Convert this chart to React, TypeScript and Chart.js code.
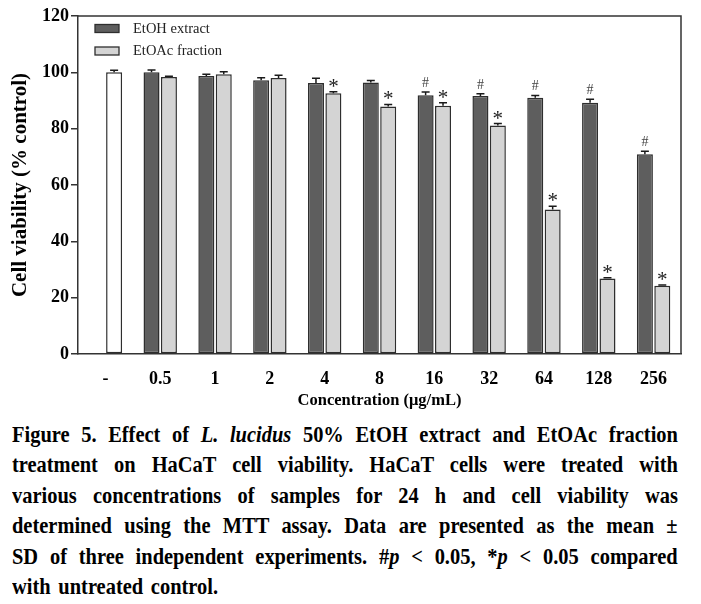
import React, { useEffect, useLayoutEffect, useRef } from "react";
import { Chart, registerables } from "chart.js";

Chart.register(...registerables);

// ---------- data ----------
const categories = ["-", "0.5", "1", "2", "4", "8", "16", "32", "64", "128", "256"];
const controlValues = [100.0, null, null, null, null, null, null, null, null, null, null];
const controlErr = [0.7, null, null, null, null, null, null, null, null, null, null];
const etohValues = [null, 100.0, 98.7, 97.2, 96.2, 96.4, 91.9, 91.6, 91.0, 89.2, 70.9];
const etohErr = [null, 0.8, 0.6, 0.9, 1.7, 0.7, 1.1, 0.8, 0.8, 1.2, 1.1];
const etoacValues = [null, 98.3, 99.3, 98.0, 92.6, 87.9, 88.1, 81.1, 51.3, 26.8, 24.2];
const etoacErr = [null, 0.3, 0.9, 1.0, 0.5, 0.7, 1.1, 0.7, 1.2, 0.3, 0.3];
const etohMarks = ["", "", "", "", "", "", "#", "#", "#", "#", "#"];
const etoacMarks = ["", "", "", "", "*", "*", "*", "*", "*", "*", "*"];
const controlMarks = ["", "", "", "", "", "", "", "", "", "", ""];
const yMin = 0;
const yMax = 120;
const yStep = 20;
const seriesLabels = ["EtOH extract", "EtOAc fraction", "Control"];

const FONT = '"Liberation Serif", "Times New Roman", Times, serif';
const DARK = "#5e5e5e";
const LIGHT = "#d4d4d4";
const EDGE = "#2e2e2e";
const AXIS = "#333333";

const framePlugin = {
  id: "frame",
  afterDraw(chart: any) {
    const { ctx, chartArea } = chart;
    ctx.save();
    ctx.strokeStyle = AXIS;
    ctx.lineWidth = 1.5;
    ctx.beginPath();
    ctx.moveTo(chartArea.left, chartArea.top);
    ctx.lineTo(chartArea.right, chartArea.top);
    ctx.lineTo(chartArea.right, chartArea.bottom);
    ctx.stroke();
    ctx.restore();
  },
};

const errorPlugin = {
  id: "errbars",
  afterDatasetsDraw(chart: any) {
    const ctx = chart.ctx;
    const ys = chart.scales.y;
    chart.data.datasets.forEach((ds: any, di: number) => {
      const meta = chart.getDatasetMeta(di);
      meta.data.forEach((el: any, i: number) => {
        const v = ds.data[i];
        if (v === null || v === undefined) return;
        const e = (ds.errors && ds.errors[i]) || 0;
        const x = el.x;
        const yTop = ys.getPixelForValue(v);
        const yCap = ys.getPixelForValue(v + e);
        ctx.save();
        ctx.strokeStyle = "#1a1a1a";
        ctx.lineWidth = 1.5;
        ctx.beginPath();
        ctx.moveTo(x, yTop);
        ctx.lineTo(x, yCap);
        ctx.moveTo(x - 4, yCap);
        ctx.lineTo(x + 4, yCap);
        ctx.stroke();
        const m = ds.marks && ds.marks[i];
        if (m) {
          if (m === "#") {
            ctx.font = `14px ${FONT}`;
            ctx.fillStyle = "#444444";
          } else {
            ctx.font = `21px ${FONT}`;
            ctx.fillStyle = "#222222";
          }
          ctx.textAlign = "center";
          ctx.textBaseline = "alphabetic";
          const mt = ctx.measureText(m);
          const desc = mt.actualBoundingBoxDescent || 0;
          ctx.fillText(m, x, yCap - 5 - desc);
        }
        ctx.restore();
      });
    });
  },
};

const legendPlugin = {
  id: "customLegend",
  afterDraw(chart: any) {
    const ctx = chart.ctx;
    const left = chart.chartArea.left;
    const top = chart.chartArea.top;
    ctx.save();
    [0, 1].forEach((di, row) => {
      const ds = chart.data.datasets[di];
      const y = top + 8.5 + row * 22.5;
      ctx.fillStyle = ds.backgroundColor;
      ctx.fillRect(left + 17, y, 24, 8);
      ctx.strokeStyle = ds.borderColor;
      ctx.lineWidth = 1.3;
      ctx.strokeRect(left + 17, y, 24, 8);
      ctx.font = `14.5px ${FONT}`;
      ctx.fillStyle = "#222222";
      ctx.textAlign = "left";
      ctx.textBaseline = "middle";
      ctx.fillText(ds.label, left + 55, y + 4.5);
    });
    ctx.restore();
  },
};

function ChartView() {
  const ref = useRef<HTMLCanvasElement>(null);
  useEffect(() => {
    if (!ref.current) return;
    const barCommon = {
      borderWidth: 1.5,
      borderColor: EDGE,
      borderSkipped: false,
      categoryPercentage: 0.635,
      barPercentage: 0.92,
    };
    const chart = new Chart(ref.current, {
      type: "bar",
      data: {
        labels: categories,
        datasets: [
          { ...barCommon, label: seriesLabels[0], data: etohValues, errors: etohErr, marks: etohMarks, stack: "a", backgroundColor: DARK } as any,
          { ...barCommon, label: seriesLabels[1], data: etoacValues, errors: etoacErr, marks: etoacMarks, stack: "b", backgroundColor: LIGHT } as any,
          { ...barCommon, label: seriesLabels[2], data: controlValues, errors: controlErr, marks: controlMarks, stack: "b", backgroundColor: "#ffffff" } as any,
        ],
      },
      options: {
        responsive: false,
        animation: false,
        devicePixelRatio: 1,
        layout: { padding: { top: 16, right: 20, left: 0, bottom: 0 } },
        plugins: { legend: { display: false }, tooltip: { enabled: false } },
        scales: {
          x: {
            grid: { display: false },
            border: { display: true, color: AXIS, width: 1.5 },
            ticks: { color: "#000", padding: 7, font: { family: FONT, size: 18, weight: "bold" } },
            title: {
              display: true,
              text: "Concentration (\u03bcg/mL)",
              color: "#000",
              font: { family: FONT, size: 16.5, weight: "bold" },
              padding: { top: 0, bottom: 4.4 },
            },
            afterFit: (s: any) => {
              s.height = 61;
            },
          },
          y: {
            min: yMin,
            max: yMax,
            stacked: false,
            ticks: { stepSize: yStep, color: "#000", padding: 2, font: { family: FONT, size: 18, weight: "bold" } },
            grid: { display: true, drawOnChartArea: false, drawTicks: true, tickLength: 7, color: AXIS, lineWidth: 1.5 },
            border: { display: true, color: AXIS, width: 1.5 },
            title: {
              display: true,
              text: "Cell viability (% control)",
              color: "#000",
              font: { family: FONT, size: 21, weight: "bold" },
              padding: { top: 7.5, bottom: 0 },
            },
            afterFit: (s: any) => {
              s.width = 78;
            },
          },
        },
      } as any,
      plugins: [framePlugin, errorPlugin, legendPlugin],
    });
    return () => chart.destroy();
  }, []);
  return (
    <canvas
      ref={ref}
      width={701}
      height={415}
      style={{ position: "absolute", left: 0, top: 0, width: 701, height: 415, display: "block" }}
    />
  );
}

const CAP_W = 666;
const CAP_SCALE = 0.87;

function CaptionLine({ children, justify }: { children: React.ReactNode; justify: boolean }) {
  const inner = useRef<HTMLSpanElement>(null);
  useLayoutEffect(() => {
    const s = inner.current;
    if (!s) return;
    s.style.wordSpacing = "0px";
    s.style.transform = "none";
    const w = s.offsetWidth;
    const spaces = (s.textContent || "").split(" ").length - 1;
    let scale = CAP_SCALE;
    if (w * scale > CAP_W) scale = CAP_W / w;
    s.style.transform = `scaleX(${scale})`;
    if (justify && spaces > 0) {
      const extra = (CAP_W / scale - w) / spaces;
      s.style.wordSpacing = `${Math.max(0, extra)}px`;
    } else if (spaces > 0) {
      s.style.wordSpacing = "3px";
    }
  });
  return (
    <div style={{ width: CAP_W, height: 30.5, lineHeight: "30.5px", whiteSpace: "nowrap" }}>
      <span ref={inner} style={{ display: "inline-block", transformOrigin: "0 50%" }}>
        {children}
      </span>
    </div>
  );
}

export default function App() {
  return (
    <div
      style={{
        position: "absolute",
        left: 0,
        top: 0,
        width: 701,
        height: 604,
        overflow: "hidden",
        background: "#fff",
      }}
    >
      <ChartView />
      <div
        style={{
          position: "absolute",
          left: 12,
          top: 418.5,
          width: CAP_W,
          fontFamily: FONT,
          fontWeight: "bold",
          fontSize: 23.5,
          color: "#000",
        }}
      >
        <CaptionLine justify>
          Figure 5. Effect of <i>L. lucidus</i> 50% EtOH extract and EtOAc fraction
        </CaptionLine>
        <CaptionLine justify>treatment on HaCaT cell viability. HaCaT cells were treated with</CaptionLine>
        <CaptionLine justify>various concentrations of samples for 24 h and cell viability was</CaptionLine>
        <CaptionLine justify>determined using the MTT assay. Data are presented as the mean ±</CaptionLine>
        <CaptionLine justify>
          SD of three independent experiments. #<i>p</i> &lt; 0.05, *<i>p</i> &lt; 0.05 compared
        </CaptionLine>
        <CaptionLine justify={false}>with untreated control.</CaptionLine>
      </div>
    </div>
  );
}
